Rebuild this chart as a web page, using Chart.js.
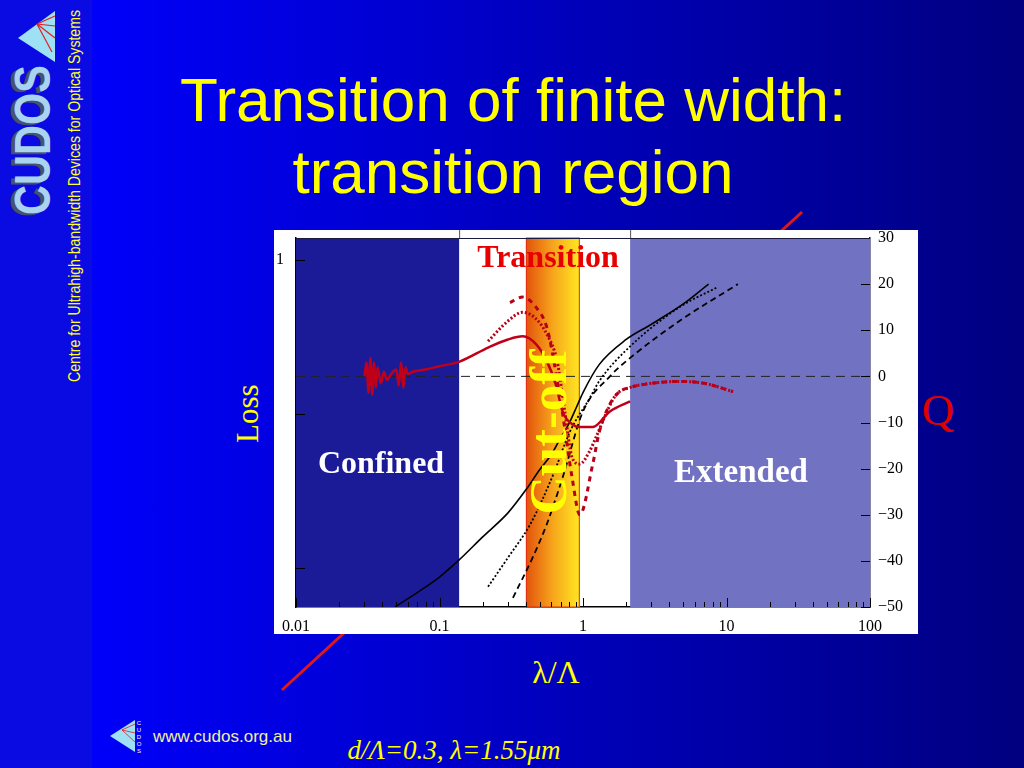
<!DOCTYPE html>
<html>
<head>
<meta charset="utf-8">
<script src="https://cdn.jsdelivr.net/npm/chart.js@4/dist/chart.umd.min.js"></script>
<style>
  html, body { margin: 0; padding: 0; }
  body { width: 1024px; height: 768px; position: relative; overflow: hidden; background: #0000c8; }
  svg { position: absolute; left: 0; top: 0; }
  #bg { z-index: 0; }
  #plotBox { position: absolute; left: 274px; top: 230px; width: 644px; height: 404px; background: #fff; z-index: 1; }
  #over { z-index: 2; pointer-events: none; }
</style>
</head>
<body>

<svg id="bg" width="1024" height="768">
  <defs>
    <linearGradient id="slideGrad" x1="0" x2="1" y1="0" y2="0">
      <stop offset="0" stop-color="#0000fa"/>
      <stop offset="1" stop-color="#000080"/>
    </linearGradient>
  </defs>
  <rect x="92" y="0" width="932" height="768" fill="url(#slideGrad)"/>
  <rect x="0" y="0" width="92" height="768" fill="#0a0ae2"/>

  <!-- logo strip -->
  <polygon points="55,11 55,62 18,38" fill="#9ee0f4"/>
  <g stroke="#e02020" stroke-width="1.2">
    <line x1="37" y1="24" x2="55" y2="16"/>
    <line x1="37" y1="24" x2="55" y2="26"/>
    <line x1="37" y1="24" x2="55" y2="38"/>
    <line x1="37" y1="24" x2="52" y2="52"/>
  </g>
  <text transform="translate(46,217) rotate(-90)" font-family="Liberation Sans" font-weight="bold" font-size="50" fill="#4a5070" textLength="150" lengthAdjust="spacingAndGlyphs">CUDOS</text>
  <text transform="translate(50,215) rotate(-90)" font-family="Liberation Sans" font-weight="bold" font-size="50" fill="#a8d4f0" textLength="150" lengthAdjust="spacingAndGlyphs">CUDOS</text>
  <text transform="translate(80,382) rotate(-90)" font-family="Liberation Sans Narrow, Liberation Sans" font-size="17" fill="#ffff33" textLength="372" lengthAdjust="spacingAndGlyphs">Centre for Ultrahigh-bandwidth Devices for Optical Systems</text>

  <!-- title -->
  <text x="513" y="121" text-anchor="middle" font-family="Liberation Sans" font-size="62" fill="#ffff00">Transition of finite width:</text>
  <text x="513" y="193" text-anchor="middle" font-family="Liberation Sans" font-size="62" fill="#ffff00">transition region</text>

  <!-- red diagonal behind the figure -->
  <line x1="282" y1="690" x2="802" y2="212" stroke="#e01818" stroke-width="3"/>

  <!-- axis titles -->
  <text transform="translate(258,443) rotate(-90)" font-family="Liberation Serif" font-size="31" fill="#ffff00">Loss</text>
  <text x="938" y="425" text-anchor="middle" font-family="Liberation Serif" font-size="45" fill="#e00000">Q</text>
  <text x="556" y="683" text-anchor="middle" font-family="Liberation Serif" font-size="32" fill="#ffff00">λ/Λ</text>

  <!-- footer -->
  <polygon points="110,736 135,720 135,752" fill="#9ee0f4"/>
  <g stroke="#e02020" stroke-width="0.8">
    <line x1="122" y1="730" x2="135" y2="724"/>
    <line x1="122" y1="730" x2="135" y2="733"/>
    <line x1="122" y1="730" x2="135" y2="742"/>
  </g>
  <g font-family="Liberation Sans" font-size="6" fill="#ffffff" text-anchor="middle">
    <text x="139" y="725">C</text><text x="139" y="732">U</text><text x="139" y="739">D</text><text x="139" y="746">O</text><text x="139" y="753">S</text>
  </g>
  <text x="153" y="742" font-family="Liberation Sans" font-size="17" fill="#f0f0a0">www.cudos.org.au</text>
  <text x="454" y="759" text-anchor="middle" font-family="Liberation Serif" font-style="italic" font-size="27" fill="#ffff00">d/Λ=0.3, λ=1.55μm</text>
</svg>

<div id="plotBox"><canvas id="chart" width="644" height="404"></canvas></div>

<svg id="over" width="1024" height="768">
  <text x="548" y="267" text-anchor="middle" font-family="Liberation Serif" font-weight="bold" font-size="32" fill="#e80000">Transition</text>
  <text transform="translate(566,432) rotate(-90)" text-anchor="middle" font-family="Liberation Serif" font-weight="bold" font-size="53" fill="#ffff00">Cut-off</text>
  <text x="381" y="473" text-anchor="middle" font-family="Liberation Serif" font-weight="bold" font-size="32" fill="#ffffff">Confined</text>
  <text x="741" y="482" text-anchor="middle" font-family="Liberation Serif" font-weight="bold" font-size="33" fill="#ffffff">Extended</text>
</svg>

<script>
// x axis: normalised wavelength lambda / pitch (log)
const xTickValues = [0.01, 0.02, 0.03, 0.04, 0.05, 0.06, 0.07, 0.08, 0.09,
  0.1, 0.2, 0.3, 0.4, 0.5, 0.6, 0.7, 0.8, 0.9,
  1, 2, 3, 4, 5, 6, 7, 8, 9,
  10, 20, 30, 40, 50, 60, 70, 80, 90, 100];
const xDecadeLabels = { 0.01: "0.01", 0.1: "0.1", 1: "1", 10: "10", 100: "100" };
const lossTicks = [0.01, 0.1, 1];

// region boundaries: confined | transition | cut-off | transition | extended
const regionEdges = [0.01, 0.137, 0.40, 0.95, 2.13, 100];

// black curves
const blackSolidX = [0.049, 0.073, 0.1, 0.137, 0.2, 0.3, 0.4, 0.5, 0.6, 0.7, 0.8, 0.9, 1.0, 1.3, 2, 3, 5, 7.5];
const blackSolidQ = [-50, -46.5, -43.5, -39.8, -34.8, -29.6, -24.6, -20.2, -17, -13.3, -10.2, -6.7, -3.5, 2.6, 8, 11.3, 15.7, 20];

const blackDotX = [0.218, 0.3, 0.43, 0.62, 0.81, 1.12, 1.3, 2.13, 4.7, 8.6];
const blackDotQ = [-45.6, -39.3, -32, -21.3, -12, -4.6, -1, 6.5, 15, 19.3];

const blackDashX = [0.325, 0.45, 0.56, 0.72, 1.0, 1.54, 2.13, 4.7, 12];
const blackDashQ = [-48, -39, -32, -22, -7.6, 0, 4, 12, 20];

// red curves
const redSolidX = [0.030, 0.031, 0.032, 0.033, 0.034, 0.035, 0.036, 0.037, 0.039, 0.041, 0.043, 0.046,
  0.05, 0.052, 0.054, 0.056, 0.058, 0.06, 0.065, 0.08, 0.1, 0.138, 0.22, 0.3, 0.38, 0.47, 0.56,
  0.65, 0.72, 0.85, 0.95, 1.17, 1.54, 2.13];
const redSolidQ = [0, 3, -3.5, 4, -4, 3, -2.5, 2, -1.5, 1, -0.8, 0.5,
  1.5, -2, 3, -2.5, 2, 0.5, 1, 1.5, 2.2, 3.2, 6.3, 8, 8.7, 7, 3.3,
  -2, -7.6, -10.5, -11, -11, -7.6, -5.4];

const redDotX = [0.218, 0.3, 0.38, 0.47, 0.56, 0.66, 0.75, 0.84, 0.95, 1.1, 1.24, 1.47, 1.7, 2.13, 3, 4.7, 7, 11.1];
const redDotQ = [7.6, 12, 13.9, 12.5, 9.1, 3.3, -8, -17.6, -19, -16.5, -13, -7.6, -4, -2.4, -1.5, -1.1, -1.5, -3.3];

const redDashX = [0.31, 0.38, 0.47, 0.56, 0.62, 0.72, 0.84, 0.95, 1.17, 1.3, 1.54, 1.8, 2.13, 3, 4.7, 7, 11.1];
const redDashQ = [16, 17.2, 15, 10.6, 4.1, -8, -22, -30, -19, -12, -6, -3.3, -2.4, -1.5, -1.1, -1.5, -3.3];

const zeroLineX = [0.01, 100];
const zeroLineQ = [0, 0];

function pts(xs, ys) {
  return xs.map((x, i) => ({ x: x, y: ys[i] }));
}

const regionPlugin = {
  id: "regions",
  beforeDatasetsDraw(chart) {
    const ctx = chart.ctx;
    const a = chart.chartArea;
    const xs = chart.scales.x;
    const e = regionEdges.map(v => xs.getPixelForValue(v));
    ctx.save();
    ctx.fillStyle = "#1b1b98";
    ctx.fillRect(e[0], a.top, e[1] - e[0], a.bottom - a.top);
    ctx.fillStyle = "#7272c2";
    ctx.fillRect(e[4], a.top, e[5] - e[4], a.bottom - a.top);
    const g = ctx.createLinearGradient(e[2], 0, e[3], 0);
    g.addColorStop(0, "#e2520c");
    g.addColorStop(0.5, "#f7a51c");
    g.addColorStop(1, "#ffe820");
    ctx.fillStyle = g;
    ctx.fillRect(e[2], a.top, e[3] - e[2], a.bottom - a.top);
    ctx.strokeStyle = "#e03010";
    ctx.lineWidth = 1;
    ctx.strokeRect(e[2] + 0.5, a.top, e[3] - e[2] - 1, a.bottom - a.top);
    // edges of the white transition strip reach the top of the frame
    ctx.strokeStyle = "#555";
    ctx.beginPath();
    ctx.moveTo(e[1] + 0.5, 0); ctx.lineTo(e[1] + 0.5, a.top);
    ctx.moveTo(e[4] + 0.5, 0); ctx.lineTo(e[4] + 0.5, a.top);
    ctx.stroke();
    ctx.restore();
  },
  afterDraw(chart) {
    const ctx = chart.ctx;
    const a = chart.chartArea;
    const xs = chart.scales.x;
    const yq = chart.scales.yQ;
    const yl = chart.scales.yLoss;
    ctx.save();
    ctx.strokeStyle = "#000";
    ctx.lineWidth = 1;
    ctx.beginPath();
    xTickValues.forEach(v => {
      const px = Math.round(xs.getPixelForValue(v)) + 0.5;
      const len = xDecadeLabels[v] ? 9 : 5;
      ctx.moveTo(px, a.bottom); ctx.lineTo(px, a.bottom - len);
    });
    yq.ticks.forEach(t => {
      const py = Math.round(yq.getPixelForValue(t.value)) + 0.5;
      ctx.moveTo(a.right, py); ctx.lineTo(a.right - 9, py);
    });
    lossTicks.forEach(v => {
      const py = Math.round(yl.getPixelForValue(v)) + 0.5;
      ctx.moveTo(a.left, py); ctx.lineTo(a.left + 9, py);
    });
    ctx.stroke();
    ctx.strokeStyle = "#1a1a40";
    ctx.beginPath();
    ctx.moveTo(a.left, a.top + 0.5); ctx.lineTo(a.right, a.top + 0.5);
    ctx.stroke();
    ctx.restore();
  }
};

const serif = { family: "Liberation Serif", size: 16 };

function noPad(s) {
  s.paddingTop = 0;
  s.paddingBottom = 0;
  s.paddingLeft = 0;
  s.paddingRight = 0;
}

new Chart(document.getElementById("chart"), {
  type: "line",
  data: {
    datasets: [
      { data: pts(redSolidX, redSolidQ), borderColor: "#c00018", borderWidth: 2.5 },
      { data: pts(redDotX, redDotQ), borderColor: "#b80018", borderWidth: 3, borderDash: [2, 2] },
      { data: pts(redDashX, redDashQ), borderColor: "#b80018", borderWidth: 3, borderDash: [5, 5] },
      { data: pts(blackSolidX, blackSolidQ), borderColor: "#000", borderWidth: 1.6 },
      { data: pts(blackDotX, blackDotQ), borderColor: "#000", borderWidth: 1.8, borderDash: [2, 2] },
      { data: pts(blackDashX, blackDashQ), borderColor: "#000", borderWidth: 1.8, borderDash: [6, 4] },
      { data: pts(zeroLineX, zeroLineQ), borderColor: "#222", borderWidth: 1, borderDash: [9, 6] }
    ].map(d => Object.assign({
      yAxisID: "yQ",
      pointRadius: 0,
      fill: false,
      cubicInterpolationMode: "monotone"
    }, d))
  },
  options: {
    responsive: false,
    animation: false,
    layout: { padding: { top: 8, left: 0, right: 0, bottom: 0 } },
    plugins: { legend: { display: false }, tooltip: { enabled: false } },
    scales: {
      x: {
        type: "logarithmic",
        min: 0.01,
        max: 100,
        grid: { display: false, drawTicks: false },
        border: { display: true, color: "#000", width: 1.5 },
        afterBuildTicks: s => { s.ticks = xTickValues.map(v => ({ value: v })); },
        afterFit: s => { s.height = 27; noPad(s); },
        ticks: {
          autoSkip: false,
          maxRotation: 0,
          padding: 10,
          color: "#000",
          font: serif,
          callback: v => xDecadeLabels[v] || ""
        }
      },
      yQ: {
        type: "linear",
        position: "right",
        min: -50,
        max: 30,
        grid: { display: false, drawTicks: false },
        border: { display: true, color: "#10104a", width: 1.5 },
        afterFit: s => { s.width = 48; noPad(s); },
        ticks: {
          stepSize: 10,
          padding: 8,
          color: "#000",
          font: serif,
          callback: v => v < 0 ? "\u2212" + (-v) : String(v)
        }
      },
      yLoss: {
        type: "logarithmic",
        position: "left",
        min: 0.00558,
        max: 1.39,
        grid: { display: false, drawTicks: false },
        border: { display: true, color: "#000", width: 1.5 },
        afterBuildTicks: s => { s.ticks = lossTicks.map(v => ({ value: v })); },
        afterFit: s => { s.width = 22; noPad(s); },
        ticks: {
          padding: 12,
          color: "#000",
          font: serif,
          callback: v => v === 1 ? "1" : ""
        }
      }
    }
  },
  plugins: [regionPlugin]
});
</script>
</body>
</html>
